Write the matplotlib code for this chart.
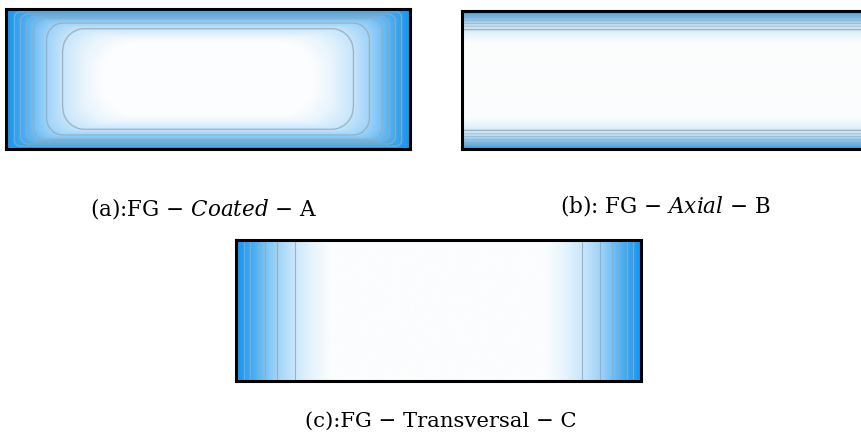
import numpy as np
import matplotlib
matplotlib.use("Agg")
import matplotlib.pyplot as plt
from matplotlib.colors import LinearSegmentedColormap

plt.rcParams['font.family'] = ['DejaVu Serif']
plt.rcParams['mathtext.fontset'] = 'dejavuserif'

# ---- data ----
# contour positions: distance from the edge, as a fraction of the half-size
gaps_a = [0.04, 0.07, 0.10, 0.135, 0.20, 0.28]
gaps_b = [0.058, 0.10, 0.14, 0.18, 0.22, 0.27]
gaps_c = [0.041, 0.071, 0.107, 0.145, 0.20, 0.29]
captions = ["(a):FG \u2212 $\\mathit{Coated}$ \u2212 A",
            "(b): FG \u2212 $\\mathit{Axial}$ \u2212 B",
            "(c):FG \u2212 Transversal \u2212 C"]

# colour ramp from the edge (0) to the core (0.5)
ramp_pos = [0.0, 0.04, 0.10, 0.135, 0.20, 0.29, 0.38, 0.47, 0.5]
ramp_a = ['#1894ee', '#2aa0f2', '#52b3f5', '#70c0f6', '#9fd3f8', '#cae7fb',
          '#e8f4fd', '#fbfdfe', '#fcfdfe']
ramp_b = ['#3f9ad8', '#55a9e0', '#7dbde8', '#98cbee', '#bddff5', '#dbeefa',
          '#eff7fd', '#fbfdfe', '#fcfdfe']

cmap_a = LinearSegmentedColormap.from_list('ca', list(zip(np.array(ramp_pos) / 0.5, ramp_a)))
cmap_b = LinearSegmentedColormap.from_list('cb', list(zip(np.array(ramp_pos) / 0.5, ramp_b)))

W, H = 404.0, 140.0
xs = np.linspace(0, W, 808)
ys = np.linspace(0, H, 280)
X, Y = np.meshgrid(xs, ys)


def coated_field():
    # nested rounded rectangles, inset by L of the half-size
    dx = np.abs(X - W / 2)
    dy = np.abs(Y - H / 2)
    F = np.zeros_like(X)
    step = 0.0025
    for L in np.arange(step, 0.6, step):
        hx = W / 2 * (1 - L)
        hy = H / 2 * (1 - L)
        R = min(3 + 0.95 * L * H / 2, hx, hy)
        qx = np.maximum(dx - (hx - R), 0)
        qy = np.maximum(dy - (hy - R), 0)
        F += (dx <= hx) & (dy <= hy) & (qx ** 2 + qy ** 2 <= R ** 2)
    return F * step


fields = [coated_field(),
          np.minimum(Y, H - Y) / (H / 2),
          np.minimum(X, W - X) / (W / 2)]

fig = plt.figure(figsize=(8.62, 4.36), dpi=100)


def px_axes(x0, y0, x1, y1):
    return fig.add_axes([x0 / 862, 1 - y1 / 436, (x1 - x0) / 862, (y1 - y0) / 436])


boxes = [(6, 9, 410, 149), (462, 11, 866, 149), (236, 240, 641, 381)]
cmaps = [cmap_a, cmap_b, cmap_a]
levels = [gaps_a, gaps_b, gaps_c]
line_w = [[0.9] * 6, [0.5] * 5 + [1.0], [0.8] * 6]

for box, F, cm, lv, lw in zip(boxes, fields, cmaps, levels, line_w):
    ax = px_axes(*box)
    ax.imshow(F, extent=(0, W, 0, H), origin='lower', cmap=cm, vmin=0, vmax=0.5,
              aspect='auto', interpolation='bilinear')
    ax.contour(X, Y, F, levels=lv, colors='#98a9b8', linewidths=lw, alpha=0.85)
    ax.set_xlim(0, W)
    ax.set_ylim(0, H)
    ax.set_xticks([])
    ax.set_yticks([])
    for s in ax.spines.values():
        s.set_linewidth(2.2)
        s.set_color('black')

# captions
fig.text(204 / 862, 1 - 208 / 436, captions[0], ha='center', va='center', fontsize=15.5)
fig.text(665 / 862, 1 - 206 / 436, captions[1], ha='center', va='center', fontsize=15.5)
fig.text(441 / 862, 1 - 421 / 436, captions[2], ha='center', va='center', fontsize=15.2)

fig.savefig('out.png', dpi=100)
